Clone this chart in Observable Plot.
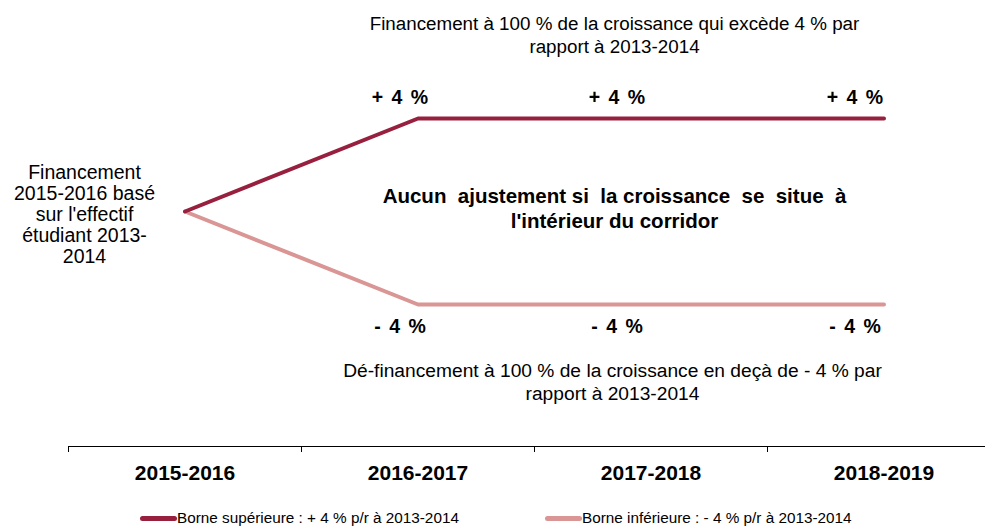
<!DOCTYPE html>
<html>
<head>
<meta charset="utf-8">
<script src="https://cdn.jsdelivr.net/npm/d3@7"></script>
<script src="https://cdn.jsdelivr.net/npm/@observablehq/plot@0.6"></script>
<style>
  html, body { margin: 0; padding: 0; background: #fff; overflow: hidden; }
  #chart svg text { white-space: pre; }
  #legend { position: relative; height: 27px; font-family: "Liberation Sans", Arial, sans-serif; font-size: 15.3px; color: #000; }
  .item { position: absolute; top: 0; display: flex; align-items: center; height: 20px; }
  .sw { width: 37px; height: 5px; border-radius: 3px; margin-right: 0px; }
</style>
</head>
<body>
<div id="chart"></div>
<div id="legend"></div>
<script>
const categories = ["2015-2016", "2016-2017", "2017-2018", "2018-2019"];
const upperValues = [0, 4, 4, 4];
const lowerValues = [0, -4, -4, -4];
const upperLabels = ["+ 4 %", "+ 4 %", "+ 4 %"];
const lowerLabels = ["- 4 %", "- 4 %", "- 4 %"];
const seriesNames = ["Borne supérieure : + 4 % p/r à 2013-2014", "Borne inférieure : - 4 % p/r à 2013-2014"];
const seriesColors = ["#98203F", "#DA9694"];
const leftNote = "Financement\n2015-2016 basé\nsur l'effectif\nétudiant 2013-\n2014";
const topNote = "Financement à 100 % de la croissance qui excède 4 % par\nrapport à 2013-2014";
const middleNote = "Aucun  ajustement si  la croissance  se  situe  à\nl'intérieur du corridor";
const bottomNote = "Dé-financement à 100 % de la croissance en deçà de - 4 % par\nrapport à 2013-2014";

const upper = categories.map((c, i) => ({i, v: upperValues[i]}));
const lower = categories.map((c, i) => ({i, v: lowerValues[i]}));
const yMin = -10.108;

const font = "'Liberation Sans', Arial, sans-serif";
const nudges = [-18, -34, -29];

const chart = Plot.plot({
  width: 985,
  height: 500,
  marginLeft: 68,
  marginRight: -15,
  marginTop: 25,
  marginBottom: 54,
  style: {fontFamily: font, color: "#000", background: "#fff"},
  x: {type: "linear", domain: [-0.5, 3.5]},
  y: {type: "linear", domain: [yMin, 8], axis: null},
  marks: [
    Plot.ruleY([yMin], {stroke: "#000", strokeWidth: 1.2}),
    Plot.axisX({ticks: [-0.5, 0.5, 1.5, 2.5], tickSize: 6, tickFormat: () => "", stroke: "#000", label: null}),
    Plot.axisX({ticks: [0, 1, 2, 3], tickSize: 0, tickPadding: 19, tickFormat: i => categories[i], fontSize: 21, fontWeight: "bold", fill: "#000", label: null}),
    Plot.line(lower, {x: "i", y: "v", stroke: seriesColors[1], strokeWidth: 4, strokeLinecap: "round", strokeLinejoin: "round"}),
    Plot.line(upper, {x: "i", y: "v", stroke: seriesColors[0], strokeWidth: 4, strokeLinecap: "round", strokeLinejoin: "round"}),
    ...upperLabels.map((t, k) => Plot.text([t], {x: () => k + 1, y: () => upperValues[k + 1], text: d => d, dx: nudges[k], dy: -21, fontSize: 19.5, fontWeight: "bold", fill: "#000"})),
    ...lowerLabels.map((t, k) => Plot.text([t], {x: () => k + 1, y: () => lowerValues[k + 1], text: d => d, dx: nudges[k], dy: 22, fontSize: 19.5, fontWeight: "bold", fill: "#000"})),
    Plot.text([leftNote], {x: () => 0, y: () => 0, text: d => d, dx: -100.5, dy: 3, fontSize: 19.5, lineHeight: 1.08, fill: "#000"}),
    Plot.text([topNote], {x: () => 1.5, y: () => 4, text: d => d, dx: 80, dy: -84.5, fontSize: 18.8, lineHeight: 1.25, fill: "#000"}),
    Plot.text([middleNote], {x: () => 1.5, y: () => 0, text: d => d, dx: 80, dy: -3.5, fontSize: 20.5, fontWeight: "bold", lineHeight: 1.22, fill: "#000"}),
    Plot.text([bottomNote], {x: () => 1.5, y: () => -4, text: d => d, dx: 78, dy: 77, fontSize: 19.2, lineHeight: 1.2, fill: "#000"})
  ]
});
d3.select(chart).selectAll("text")
  .filter(function() { return /^[+-] 4 %$/.test(this.textContent); })
  .style("word-spacing", "3px");
document.getElementById("chart").appendChild(chart);

const legend = document.getElementById("legend");
const lefts = [140, 545];
seriesNames.forEach((name, i) => {
  const item = document.createElement("div");
  item.className = "item";
  item.style.left = lefts[i] + "px";
  item.style.top = "8px";
  const sw = document.createElement("div");
  sw.className = "sw";
  sw.style.background = seriesColors[i];
  const label = document.createElement("span");
  label.textContent = name;
  item.appendChild(sw);
  item.appendChild(label);
  legend.appendChild(item);
});
</script>
</body>
</html>
